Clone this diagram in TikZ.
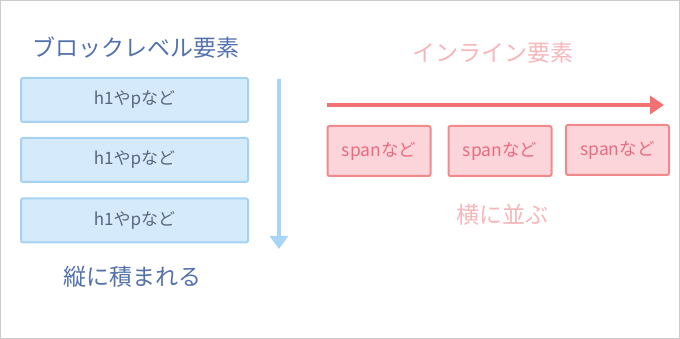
\documentclass[tikz,border=0pt]{standalone}
\usepackage{fontspec}
\newfontfamily\jp{Noto Sans CJK JP}
\usetikzlibrary{arrows.meta}
\definecolor{btitle}{HTML}{5271AD}
\definecolor{bfill}{HTML}{D5EAFB}
\definecolor{bline}{HTML}{A6D2F4}
\definecolor{btext}{HTML}{5A6680}
\definecolor{barrow}{HTML}{A8D5F6}
\definecolor{rtitle}{HTML}{F6B6BA}
\definecolor{rfill}{HTML}{FBD5D9}
\definecolor{rline}{HTML}{F28A8C}
\definecolor{rtext}{HTML}{E86C80}
\definecolor{rarrow}{HTML}{F27273}
\definecolor{frame}{HTML}{CCCCCC}
\tikzset{
  blockbox/.style={draw=bline, fill=bfill, line width=2pt, rounded corners=2pt,
    minimum width=227pt, minimum height=44pt, inner sep=0pt,
    font=\jp\fontsize{17}{17}\selectfont, text=btext},
  spanbox/.style={draw=rline, fill=rfill, line width=2pt, rounded corners=2pt,
    minimum width=103pt, minimum height=50pt, inner sep=0pt,
    font=\jp\fontsize{17.5}{17.5}\selectfont, text=rtext},
  btitlestyle/.style={font=\jp\fontsize{23}{23}\selectfont, text=btitle, inner sep=0pt},
  rtitlestyle/.style={font=\jp\fontsize{23}{23}\selectfont, text=rtitle, inner sep=0pt},
}
\begin{document}
\begin{tikzpicture}[x=1pt,y=-1pt]
\useasboundingbox (0,0) rectangle (680,339);
\draw[frame, line width=1pt] (0.5,0.5) rectangle (679.5,338.5);
% left side
\node[btitlestyle] (bt) at (136,48) {ブロックレベル要素};
\node[blockbox] (b1) at (134.5,100) {h1やpなど};
\node[blockbox] (b2) at (134.5,160) {h1やpなど};
\node[blockbox] (b3) at (134.5,220.5) {h1やpなど};
\node[btitlestyle] (bb) at (132,277) {縦に積まれる};
\coordinate (ba1) at (279,79);
\coordinate (ba2) at (279,249);
\draw[barrow, line width=3.5pt, -{Triangle[width=18pt,length=13pt]}] (ba1) -- (ba2);
% right side
\node[rtitlestyle] (rt) at (493,53) {インライン要素};
\coordinate (ra1) at (327,105);
\coordinate (ra2) at (664,105);
\draw[rarrow, line width=4pt, -{Triangle[width=18pt,length=14pt]}] (ra1) -- (ra2);
\node[spanbox] (s1) at (379,151) {spanなど};
\node[spanbox] (s2) at (500,151) {spanなど};
\node[spanbox] (s3) at (617.5,150) {spanなど};
\node[rtitlestyle] (rb) at (502,215) {横に並ぶ};
\end{tikzpicture}
\end{document}
